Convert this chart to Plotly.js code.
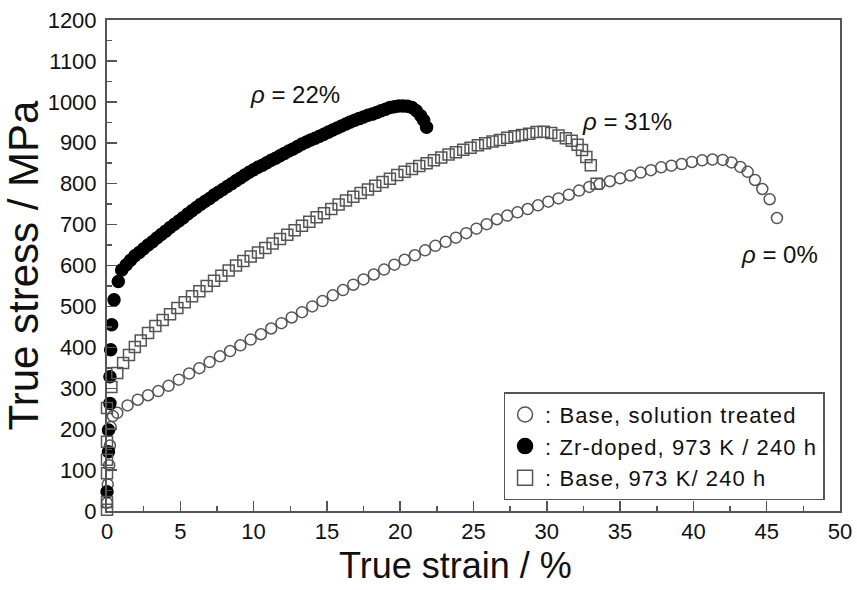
<!DOCTYPE html>
<html>
<head>
<meta charset="utf-8">
<script src="https://cdn.plot.ly/plotly-3.0.1.min.js"></script>
<style>html,body{margin:0;padding:0;background:#fff}#chart{width:857px;height:590px}
.legendtext{letter-spacing:1.1px}</style>
</head>
<body>
<div id="chart"></div>
<script>
// Base, solution treated (open circles)
const baseSolX = [0, 0.05, 0.15, 0.2, 0.25, 0.4,
  0.7, 1.4, 2.1, 2.8, 3.5, 4.2, 4.9, 5.6, 6.3, 7.0, 7.7, 8.4, 9.1, 9.8, 10.5, 11.2, 11.9, 12.6, 13.3, 14.0,
  14.7, 15.4, 16.1, 16.8, 17.5, 18.2, 18.9, 19.6, 20.3, 21.0, 21.7, 22.4, 23.1, 23.8, 24.5, 25.2, 25.9,
  26.6, 27.3, 28.0, 28.7, 29.4, 30.1, 30.8, 31.5, 32.2, 32.9, 33.6, 34.3, 35.0, 35.7, 36.4, 37.1, 37.8,
  38.5, 39.2, 39.9, 40.6, 41.3, 42.0, 42.6, 43.2, 43.7, 44.2, 44.7, 45.2, 45.7];
const baseSolY = [20, 65, 112, 160, 205, 232,
  240, 258, 272, 283, 293, 306, 321, 336, 349, 364, 378, 391, 405, 419, 432, 446, 459, 473, 486, 500,
  513, 527, 540, 553, 566, 578, 590, 602, 614, 625, 637, 648, 658, 668, 679, 690, 701,
  713, 722, 730, 738, 747, 756, 764, 773, 783, 792, 799, 806, 813, 820, 827, 833, 840,
  844, 848, 853, 857, 859, 858, 852, 841, 829, 809, 787, 762, 716];

// Zr-doped, 973 K / 240 h (filled circles)
const zrX = [0, 0.1, 0.1, 0.2, 0.2, 0.25, 0.32, 0.48, 0.77,
  1.0, 1.3, 1.6, 1.9, 2.2, 2.5, 2.8, 3.1, 3.4, 3.7, 4.0, 4.3, 4.6, 4.9, 5.2, 5.5, 5.8, 6.1, 6.4, 6.7,
  7.0, 7.3, 7.6, 7.9, 8.2, 8.5, 8.8, 9.1, 9.4, 9.7, 10.0, 10.3, 10.6, 10.9, 11.2, 11.5, 11.8, 12.1,
  12.4, 12.7, 13.0, 13.3, 13.6, 13.9, 14.2, 14.5, 14.8, 15.1, 15.4, 15.7, 16.0, 16.3, 16.6, 16.9,
  17.2, 17.5, 17.8, 18.1, 18.4, 18.7, 19.0, 19.3, 19.6, 19.9, 20.2, 20.5, 20.8, 21.1, 21.4, 21.6, 21.8];
const zrY = [47, 145, 198, 263, 328, 394, 455, 516, 561,
  589, 601, 613, 624, 632, 641, 650, 658, 667, 676, 684, 693, 701, 709, 717, 726, 734, 742, 750, 757,
  764, 772, 779, 786, 793, 800, 807, 814, 821, 828, 834, 840, 845, 851, 857, 862, 868, 874,
  880, 885, 891, 897, 902, 907, 911, 916, 921, 926, 931, 936, 941, 946, 951, 955,
  959, 963, 967, 970, 974, 978, 982, 986, 988, 990, 990, 989, 986, 978, 966, 955, 938];

// Base, 973 K / 240 h (open squares)
const base973X = [0, 0, 0, 0, 0, 0,
  0.3, 0.7, 1.1, 1.5, 1.9, 2.3, 2.8, 3.3, 3.8, 4.3, 4.8, 5.3, 5.8, 6.3, 6.8, 7.3, 7.8, 8.3, 8.8, 9.3,
  9.8, 10.3, 10.8, 11.3, 11.8, 12.3, 12.8, 13.3, 13.8, 14.3, 14.8, 15.3, 15.8, 16.3, 16.8, 17.3, 17.8,
  18.3, 18.8, 19.3, 19.8, 20.3, 20.8, 21.3, 21.8, 22.3, 22.8, 23.3, 23.8, 24.3, 24.8, 25.3, 25.8,
  26.3, 26.8, 27.3, 27.8, 28.3, 28.8, 29.3, 29.8, 30.3, 30.8, 31.3, 31.7, 32.1, 32.4, 32.7, 33.0, 33.4];
const base973Y = [3, 22, 92, 125, 169, 252,
  303, 337, 362, 381, 401, 417, 435, 452, 467, 481, 496, 510, 525, 537, 550, 563, 575, 588, 600, 611,
  622, 632, 643, 654, 665, 675, 686, 697, 707, 718, 728, 738, 749, 759, 768, 777, 786,
  795, 804, 812, 821, 829, 836, 843, 850, 857, 864, 871, 877, 883, 888, 894, 899,
  903, 907, 912, 916, 919, 922, 926, 927, 924, 918, 911, 905, 895, 882, 865, 845, 800];

const seriesNames = [': Base, solution treated', ': Zr-doped, 973 K / 240 h', ': Base, 973 K/ 240 h'];
const labelText = ['<i>ρ</i> = 22%', '<i>ρ</i> = 31%', '<i>ρ</i> = 0%'];
const labelX = [12.8, 35.5, 45.9];
const labelY = [1017, 951, 626];
const xTicks = [0, 5, 10, 15, 20, 25, 30, 35, 40, 45, 50];
const yTicks = [0, 100, 200, 300, 400, 500, 600, 700, 800, 900, 1000, 1100, 1200];
const xTitle = 'True strain / %';
const yTitle = 'True stress / MPa';

const FONT = 'Arial, "Liberation Sans", sans-serif';
const gray = '#555555';

const symbols = ['circle-open', 'circle', 'square-open'];
const colors = [gray, '#000', gray];
const data = [[baseSolX, baseSolY], [zrX, zrY], [base973X, base973Y]];
const sizes = [11, 12, 11];

const traces = [];
data.forEach((d, i) => {
  traces.push({x: d[0], y: d[1], name: seriesNames[i], type: 'scatter', mode: 'markers', cliponaxis: false,
    showlegend: false,
    marker: {symbol: symbols[i], size: sizes[i], color: colors[i], line: {width: 1.5, color: colors[i]}}});
});
// legend-only entries (larger symbols, like the reference legend)
data.forEach((d, i) => {
  traces.push({x: [null], y: [null], name: seriesNames[i], type: 'scatter', mode: 'markers',
    marker: {symbol: symbols[i], size: 15, color: colors[i], line: {width: 1.5, color: colors[i]}}});
});

const layout = {
  width: 857, height: 590,
  margin: {l: 107, r: 17, t: 20, b: 79},
  paper_bgcolor: '#fff', plot_bgcolor: '#fff',
  font: {family: FONT, color: '#111'},
  showlegend: true,
  legend: {x: 0.541, y: 0.022, xanchor: 'left', yanchor: 'bottom',
    bordercolor: gray, borderwidth: 1.5, bgcolor: '#fff',
    font: {family: FONT, size: 22, color: '#111'}, tracegroupgap: 0},
  xaxis: {range: [0, 50], tickvals: xTicks, ticktext: xTicks.map(String),
    ticks: 'inside', ticklen: 10, tickwidth: 1.5, tickcolor: gray,
    minor: {dtick: 2.5, ticks: 'inside', ticklen: 5, tickwidth: 1.5, tickcolor: gray},
    showline: true, linecolor: gray, linewidth: 2, mirror: true, showgrid: false, zeroline: false,
    tickfont: {family: FONT, size: 22, color: '#111'}},
  yaxis: {range: [0, 1200], tickvals: yTicks, ticktext: yTicks.map(String),
    ticks: 'inside', ticklen: 10, tickwidth: 1.5, tickcolor: gray,
    minor: {dtick: 50, ticks: 'inside', ticklen: 5, tickwidth: 1.5, tickcolor: gray},
    showline: true, linecolor: gray, linewidth: 2, mirror: true, showgrid: false, zeroline: false,
    ticklabelstandoff: 4,
    tickfont: {family: FONT, size: 22, color: '#111'},
    title: {text: yTitle, font: {family: FONT, size: 42, color: '#111'}, standoff: 2}},
  annotations: labelText.map((t, i) => ({x: labelX[i], y: labelY[i], xref: 'x', yref: 'y', text: t,
    showarrow: false, font: {family: FONT, size: 24, color: '#111'}})).concat([
    {x: 0.476, y: -0.112, xref: 'paper', yref: 'paper', text: xTitle, showarrow: false,
     xanchor: 'center', yanchor: 'middle', font: {family: FONT, size: 36, color: '#111'}}])
};

Plotly.newPlot('chart', traces, layout, {displayModeBar: false, staticPlot: true});
</script>
</body>
</html>
